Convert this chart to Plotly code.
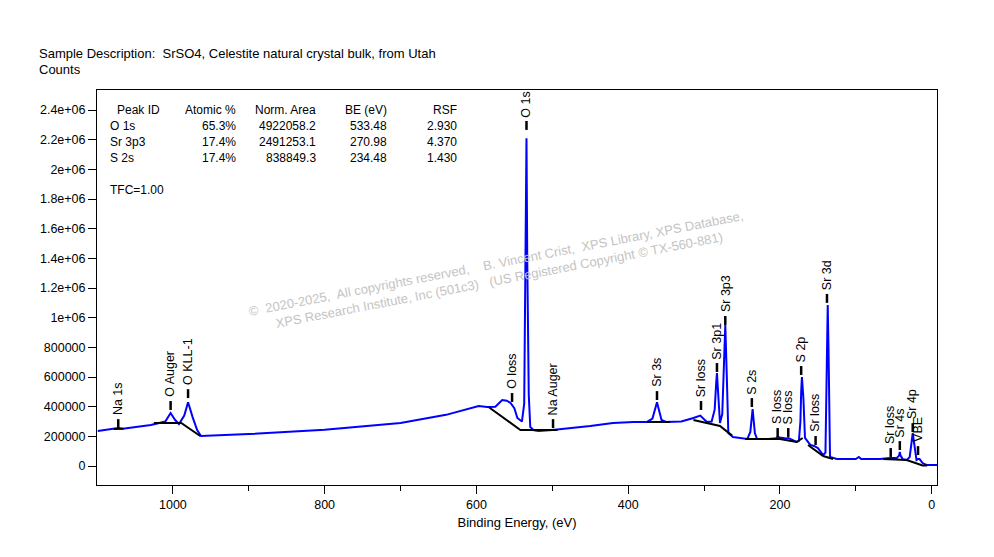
import plotly.graph_objects as go

# spectrum (binding energy eV, counts)
be = [1099, 1078, 1072, 1066, 1029, 1010, 1003, 997, 992, 985, 980, 974, 968, 963,
      900, 800, 700, 640, 597, 586, 575, 566, 560, 555, 550, 546, 540, 537, 535, 534, 533, 531, 529,
      524, 518, 500, 450, 420, 393, 375, 368, 365, 362, 359, 356, 350, 345, 330, 314, 308, 305, 300, 296,
      290, 286, 284, 283, 282, 279, 276, 274, 272, 270, 268, 262, 250, 243, 239, 237, 236, 235, 233, 230,
      215, 205, 203, 200, 192, 189, 186, 178, 175, 173, 172, 171, 169, 167, 160, 155, 150, 143, 140,
      138, 137, 136, 134, 125, 100, 96, 93, 80, 68, 55, 46, 43, 42, 41, 38, 33, 29, 27, 25, 23, 20,
      18, 16, 12, 7, -7]
counts = [236e3, 250e3, 256e3, 252e3, 276e3, 300e3, 357e3, 310e3, 283e3, 340e3, 430e3, 330e3, 243e3, 202e3,
          215e3, 245e3, 290e3, 345e3, 405e3, 398e3, 400e3, 445e3, 440e3, 425e3, 390e3, 324e3, 300e3, 420e3,
          1.5e6, 2.21e6, 1.4e6, 480e3, 263e3,
          240e3, 236e3, 243e3, 270e3, 290e3, 297e3, 297e3, 320e3, 380e3, 430e3, 370e3, 310e3, 297e3, 297e3,
          300e3, 324e3, 335e3, 340e3, 315e3, 297e3,
          300e3, 380e3, 560e3, 627e3, 540e3, 290e3, 350e3, 700e3, 951e3, 600e3, 222e3, 196e3, 185e3, 182e3,
          230e3, 330e3, 384e3, 330e3, 220e3, 182e3,
          182e3, 188e3, 196e3, 192e3, 186e3, 189e3, 182e3, 162e3, 170e3, 300e3, 500e3, 600e3, 450e3, 189e3,
          142e3, 135e3, 121e3, 74e3, 90e3,
          600e3, 1.086e6, 800e3, 61e3, 47e3, 47e3, 61e3, 47e3, 47e3, 47e3, 54e3, 54e3, 70e3, 94e3, 70e3,
          45e3, 40e3, 60e3, 140e3, 222e3, 150e3, 40e3,
          47e3, 47e3, 20e3, 7e3, 7e3]

# backgrounds (None separates segments)
bg_x = [1078, 1065, None, 1025, 989, 964, None, 584, 542, 493, None, 375, 345, None,
        314, 279, 263, None, 246, 200, 178, 170, None, 163, 143, 130, None, 64, 33, 12, 6]
bg_y = [250e3, 252e3, None, 290e3, 290e3, 202e3, None, 398e3, 243e3, 243e3, None, 297e3, 297e3, None,
        310e3, 270e3, 205e3, None, 182e3, 182e3, 162e3, 189e3, None, 142e3, 67e3, 47e3, None,
        47e3, 40e3, 4e3, 4e3]

# peak labels
peak_names = ["Na 1s", "O Auger", "O KLL-1", "O loss", "O 1s", "Na Auger", "Sr 3s", "Sr loss",
              "Sr 3p1", "Sr 3p3", "S 2s", "S loss", "S loss", "S 2p", "Sr loss", "Sr 3d",
              "Sr loss", "Sr 4s", "Sr 4p", "VBE"]
peak_be = [1072, 1003, 980, 553, 534, 499, 362, 304, 283, 272, 237, 203, 189, 172, 153, 138,
           54, 42, 25, 18]
peak_y = [256e3, 378e3, 458e3, 432e3, 2.266e6, 256e3, 445e3, 378e3, 634e3, 951e3, 398e3, 196e3,
          196e3, 614e3, 142e3, 1.1e6, 61e3, 108e3, 229e3, 74e3]
tick_h = 60e3

table_rows = [["Peak ID", "Atomic %", "Norm. Area", "BE (eV)", "RSF"],
              ["O 1s", "65.3%", "4922058.2", "533.48", "2.930"],
              ["Sr 3p3", "17.4%", "2491253.1", "270.98", "4.370"],
              ["S 2s", "17.4%", "838849.3", "234.48", "1.430"]]

y_ticks = [0, 200000, 400000, 600000, 800000, 1000000, 1200000, 1400000, 1600000, 1800000,
           2000000, 2200000, 2400000]
y_ticktext = ["0", "200000", "400000", "600000", "800000", "1e+06", "1.2e+06", "1.4e+06",
              "1.6e+06", "1.8e+06", "2e+06", "2.2e+06", "2.4e+06"]

# plot box in reference pixels; page adds an 8px offset
L, R, T, B, W, H = 97, 937, 90, 485, 994, 557
OFF = 8


def px(x):
    return (x - L) / (R - L)


def py(y):
    return (B - y) / (B - T)


fig = go.Figure()
fig.add_trace(go.Scatter(x=be, y=counts, mode="lines", line=dict(color="#0000FF", width=2)))
fig.add_trace(go.Scatter(x=bg_x, y=bg_y, mode="lines", line=dict(color="black", width=2)))

tx, ty = [], []
for b, y in zip(peak_be, peak_y):
    tx += [b, b, None]
    ty += [y, y + tick_h, None]
fig.add_trace(go.Scatter(x=tx, y=ty, mode="lines", line=dict(color="black", width=2.5)))

ann = []
for name, b, y in zip(peak_names, peak_be, peak_y):
    ann.append(dict(x=b, y=y + tick_h + 12e3, text=name, textangle=-90, showarrow=False,
                    xanchor="center", yanchor="bottom", font=dict(size=12.5, color="black")))

col_x = [160, 238, 318, 389, 459]
for i, row in enumerate(table_rows):
    for j, cell in enumerate(row):
        if j == 0:
            xa, xx = "left", (115 if i == 0 else 108)
        else:
            xa, xx = "right", col_x[j]
        ann.append(dict(xref="paper", yref="paper", x=px(xx), y=py(110 + 16 * i), text=cell,
                        showarrow=False, xanchor=xa, yanchor="middle", font=dict(size=12, color="black")))
ann.append(dict(xref="paper", yref="paper", x=px(108), y=py(190), text="TFC=1.00", showarrow=False,
                xanchor="left", yanchor="middle", font=dict(size=12, color="black")))

ann.append(dict(xref="paper", yref="paper", x=px(497), y=py(272), textangle=-11, showarrow=False,
                text="©  2020-2025,  All copyrights reserved,    B. Vincent Crist,  XPS Library, XPS Database,"
                     "<br>XPS Research Institute, Inc (501c3)   (US Registered Copyright © TX-560-881)",
                font=dict(size=13, color="#c4c4c4")))

ann.append(dict(xref="paper", yref="paper", x=px(37), y=py(54), xanchor="left", yanchor="middle",
                showarrow=False, text="Sample Description:  SrSO4, Celestite natural crystal bulk, from Utah",
                font=dict(size=13, color="black")))
ann.append(dict(xref="paper", yref="paper", x=px(37), y=py(70), xanchor="left", yanchor="middle",
                showarrow=False, text="Counts", font=dict(size=13, color="black")))

fig.update_layout(
    width=W, height=H,
    margin=dict(l=L - OFF, r=W - R + OFF, t=T - OFF, b=H - B + OFF),
    paper_bgcolor="white", plot_bgcolor="white",
    showlegend=False,
    font=dict(family="Liberation Sans, Arial", size=12.5, color="black"),
    annotations=ann,
    xaxis=dict(range=[1100, -7], showgrid=False, zeroline=False, showline=True, mirror=True,
               linecolor="black", linewidth=1, ticks="outside", ticklen=8, tickcolor="black",
               tickvals=[1000, 800, 600, 400, 200, 0],
               minor=dict(tickvals=[900, 700, 500, 300, 100], ticks="outside", ticklen=5, tickcolor="black"),
               title=dict(text="Binding Energy, (eV)", standoff=6, font=dict(size=13))),
    yaxis=dict(range=[-128000, 2535000], showgrid=False, zeroline=False, showline=True, mirror=True,
               linecolor="black", linewidth=1, ticks="outside", ticklen=8, tickcolor="black",
               tickvals=y_ticks, ticktext=y_ticktext),
)

fig.write_html("out.html")
